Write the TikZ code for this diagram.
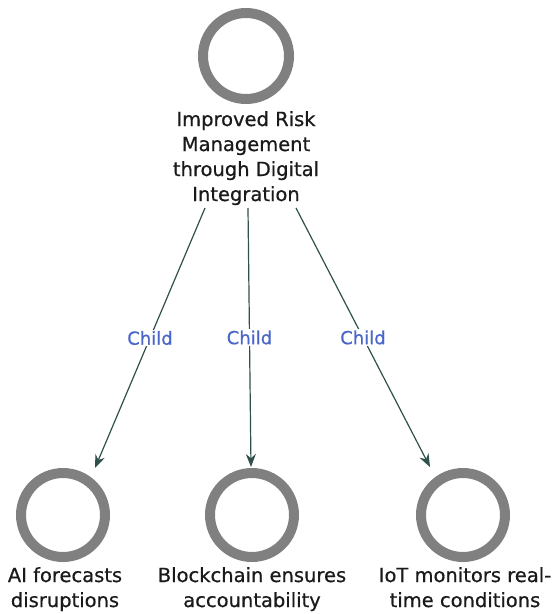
\documentclass[tikz,border=0pt]{standalone}
\usepackage{fontspec}
\setmainfont[FakeBold=0.6]{DejaVu Sans}
\usetikzlibrary{arrows.meta}
\definecolor{ringgray}{HTML}{808080}
\definecolor{edgecol}{HTML}{2F504C}
\definecolor{lblblue}{HTML}{4A66C8}
\definecolor{txt}{HTML}{1A1A1A}
\begin{document}
\begin{tikzpicture}[x=1pt,y=-1pt,
  ring/.style={circle,draw=ringgray,line width=10pt,minimum size=86pt,inner sep=0pt},
  ringsmall/.style={ring,minimum size=84pt},
  caption/.style={align=center,font=\fontsize{19.5}{25}\selectfont,text=txt,inner sep=0pt,anchor=north},
  edge/.style={draw=edgecol,line width=1.2pt,-{Stealth[length=13pt,width=10pt]}},
  elabel/.style={fill=white,text=lblblue,font=\fontsize{18}{20}\selectfont,inner sep=1.5pt}]
\useasboundingbox (0,0) rectangle (552,614);
\node[ring] (root) at (246,56) {};
\node[caption] (roottxt) at (246,111) {Improved Risk\\Management\\through Digital\\Integration};
\node[ringsmall] (c1) at (63,515) {};
\node[ringsmall] (c2) at (252,515) {};
\node[ringsmall] (c3) at (463,515) {};
\node[caption] (t1) at (65,567) {AI forecasts\\disruptions};
\node[caption] (t2) at (252,567) {Blockchain ensures\\accountability};
\node[caption] (t3) at (465,567) {IoT monitors real-\\time conditions};
\coordinate (s1) at (205,208);
\coordinate (s2) at (248,208);
\coordinate (s3) at (296,208);
\coordinate (e1) at (95,468);
\coordinate (e2) at (251,467);
\coordinate (e3) at (430,467);
\draw[edge] (s1) -- node[elabel,pos=0.5]{Child} (e1);
\draw[edge] (s2) -- node[elabel,pos=0.5]{Child} (e2);
\draw[edge] (s3) -- node[elabel,pos=0.5]{Child} (e3);
\end{tikzpicture}
\end{document}
